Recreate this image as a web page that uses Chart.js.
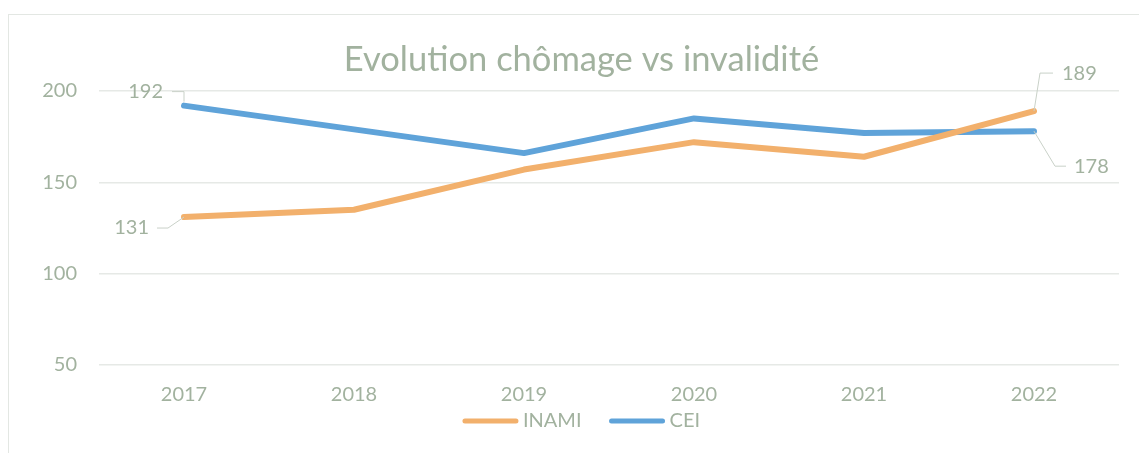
<!DOCTYPE html>
<html>
<head>
<meta charset="utf-8">
<script src="https://cdn.jsdelivr.net/npm/chart.js@4.4.0/dist/chart.umd.min.js"></script>
<style>
  html, body { margin: 0; padding: 0; background: #fff; overflow: hidden; }
  #wrap { position: relative; width: 1139px; height: 453px; }
  #frame { position: absolute; left: 8px; top: 14px; width: 1200px; height: 500px; border: 1px solid #e3e7e3; box-sizing: border-box; }
  canvas { position: absolute; left: 0; top: 0; }
</style>
</head>
<body>
<div id="wrap">
  <div id="frame"></div>
  <canvas id="lineChart" width="1139" height="453"></canvas>
</div>
<script>
// Chart data
const years = ['2017', '2018', '2019', '2020', '2021', '2022'];
const inami = [131, 135, 157, 172, 164, 189];
const cei = [192, 179, 166, 185, 177, 178];
const yTicks = [50, 100, 150, 200];
const chartTitle = 'Evolution chômage vs invalidité';

const textColor = '#a2b29f';
const fontFamily = 'Lato, "Open Sans", sans-serif';

// Labels with leader lines on the first and last points (offsets in px from the point)
const leaderLabels = {
  id: 'leaderLabels',
  afterDatasetsDraw(chart) {
    const ctx = chart.ctx;
    const specs = [
      { ds: 1, i: 0, path: [[0, -4], [0, -14], [-12, -14]], text: [-21, -14], align: 'right' },
      { ds: 0, i: 0, path: [[0, 0], [-16, 11], [-27, 11]], text: [-35, 11], align: 'right' },
      { ds: 0, i: 5, path: [[0, 0], [6, -38], [19, -38]], text: [28, -38], align: 'left' },
      { ds: 1, i: 5, path: [[0, 0], [21, 35], [32, 35]], text: [40, 35], align: 'left' }
    ];
    ctx.save();
    specs.forEach(s => {
      const pt = chart.getDatasetMeta(s.ds).data[s.i];
      const value = chart.data.datasets[s.ds].data[s.i];
      ctx.strokeStyle = '#c9d1c8';
      ctx.lineWidth = 1;
      ctx.beginPath();
      s.path.forEach((p, k) => {
        if (k === 0) ctx.moveTo(pt.x + p[0], pt.y + p[1]);
        else ctx.lineTo(pt.x + p[0], pt.y + p[1]);
      });
      ctx.stroke();
      ctx.fillStyle = textColor;
      ctx.font = '20px ' + fontFamily;
      ctx.textAlign = s.align;
      ctx.textBaseline = 'middle';
      ctx.fillText(String(value), pt.x + s.text[0], pt.y + s.text[1]);
    });
    ctx.restore();
  }
};

// Title and legend drawn by hand (both sit a bit right of the canvas centre)
const titleAndLegend = {
  id: 'titleAndLegend',
  afterDraw(chart) {
    const ctx = chart.ctx;
    const cx = chart.width / 2 + 12;
    ctx.save();
    ctx.fillStyle = textColor;
    ctx.font = '34.5px ' + fontFamily;
    ctx.textAlign = 'center';
    ctx.textBaseline = 'middle';
    ctx.fillText(chartTitle, cx, 60);

    const y = 421;
    const lineLen = 55, gap = 5, itemGap = 28;
    ctx.font = '20px ' + fontFamily;
    const items = chart.data.datasets.map(d => ({ d, w: ctx.measureText(d.label).width }));
    const total = items.reduce((s, it) => s + lineLen + gap + it.w, 0) + itemGap * (items.length - 1);
    let x = cx - total / 2;
    items.forEach(it => {
      ctx.strokeStyle = it.d.borderColor;
      ctx.lineWidth = 5;
      ctx.lineCap = 'round';
      ctx.beginPath();
      ctx.moveTo(x + 2, y);
      ctx.lineTo(x + lineLen - 2, y);
      ctx.stroke();
      ctx.fillStyle = textColor;
      ctx.textAlign = 'left';
      ctx.fillText(it.d.label, x + lineLen + gap, y);
      x += lineLen + gap + it.w + itemGap;
    });
    ctx.restore();
  }
};

new Chart(document.getElementById('lineChart'), {
  type: 'line',
  data: {
    labels: years,
    datasets: [
      {
        label: 'INAMI',
        data: inami,
        borderColor: '#f2b06c',
        backgroundColor: '#f2b06c',
        borderWidth: 6,
        pointRadius: 0,
        tension: 0,
        borderJoinStyle: 'round',
        borderCapStyle: 'round'
      },
      {
        label: 'CEI',
        data: cei,
        borderColor: '#5fa3d9',
        backgroundColor: '#5fa3d9',
        borderWidth: 6,
        pointRadius: 0,
        tension: 0,
        borderJoinStyle: 'round',
        borderCapStyle: 'round'
      }
    ]
  },
  options: {
    responsive: false,
    animation: false,
    layout: {
      padding: { left: 0, right: 20, top: 91, bottom: 28 }
    },
    plugins: {
      title: { display: false },
      legend: { display: false },
      tooltip: { enabled: false }
    },
    scales: {
      x: {
        offset: true,
        grid: { display: false, drawTicks: false },
        border: { display: false },
        ticks: { color: textColor, font: { family: fontFamily, size: 20 }, padding: 18 }
      },
      y: {
        min: 50,
        max: 200,
        afterFit(scale) { scale.width = 99; },
        afterBuildTicks(scale) { scale.ticks = yTicks.map(v => ({ value: v })); },
        grid: { color: '#e6e9e6', lineWidth: 1.5, drawTicks: false },
        border: { display: false },
        ticks: { color: textColor, font: { family: fontFamily, size: 20 }, padding: 22 }
      }
    }
  },
  plugins: [leaderLabels, titleAndLegend]
});
</script>
</body>
</html>
